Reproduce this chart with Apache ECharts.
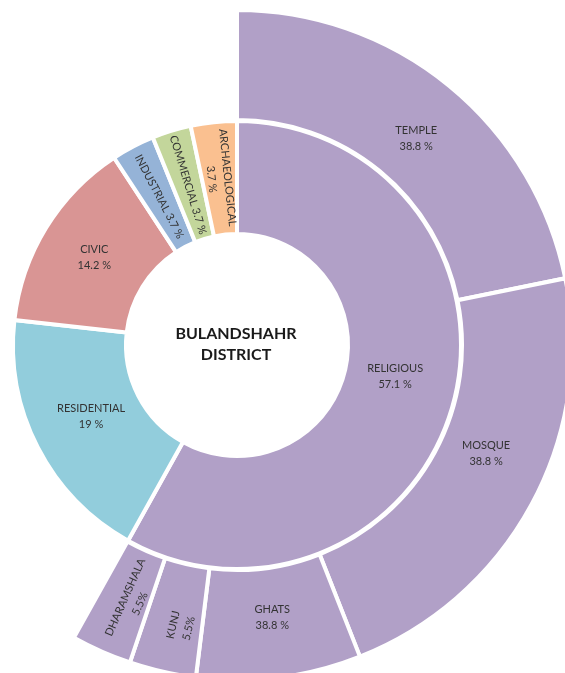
<!DOCTYPE html>
<html>
<head>
<meta charset="utf-8">
<script src="https://cdn.jsdelivr.net/npm/echarts@6/dist/echarts.min.js"></script>
<style>
html,body{margin:0;padding:0;background:#fff;}
#chart{width:565px;height:673px;}
</style>
</head>
<body>
<div id="chart"></div>
<script>
// Inner ring (land use categories)
const innerNames = ['RELIGIOUS', 'RESIDENTIAL', 'CIVIC', 'INDUSTRIAL', 'COMMERCIAL', 'ARCHAEOLOGICAL'];
const innerValues = [57.8, 18.6, 13.9, 3.1, 2.8, 3.3];
const innerLabels = ['57.1 %', '19 %', '14.2 %', '3.7 %', '3.7 %', '3.7 %'];

// Outer ring (breakdown of religious)
const religiousNames = ['TEMPLE', 'MOSQUE', 'GHATS', 'KUNJ', 'DHARAMSHALA'];
const religiousValues = [21.7, 22.1, 7.9, 3.2, 2.9];
const religiousLabels = ['38.8 %', '38.8 %', '38.8 %', '5.5%', '5.5%'];

const centerTitle = 'BULANDSHAHR\nDISTRICT';

// ---- styling (kept apart from the data) ----
const innerColors = ['#b1a0c7', '#92cddc', '#d99594', '#95b3d7', '#c3d69b', '#fac090'];
const radialLabels = ['INDUSTRIAL', 'COMMERCIAL', 'ARCHAEOLOGICAL', 'KUNJ', 'DHARAMSHALA'];
const singleLine = ['INDUSTRIAL', 'COMMERCIAL'];
// small label nudges in px, in the label's own frame: [dx, dy]
const labelNudge = {
  TEMPLE: [2, 10],
  MOSQUE: [3, -25],
  RELIGIOUS: [-4, -11],
  GHATS: [0, -5],
  RESIDENTIAL: [3, -5],
  KUNJ: [-7, 8],
  DHARAMSHALA: [4, 8]
};

const rich = {};
function labelFor(name, pct) {
  let text = name + (singleLine.includes(name) ? ' ' : '\n') + pct;
  const l = { rotate: radialLabels.includes(name) ? 'radial' : 0 };
  const nd = labelNudge[name];
  if (nd) {
    const dx = nd[0], dy = nd[1];
    l.padding = [0, dx < 0 ? -2 * dx : 0, 0, dx > 0 ? 2 * dx : 0];
    if (dy !== 0) {
      const h = Math.abs(dy) * 2;
      const key = 'g' + h;
      rich[key] = { lineHeight: h, fontSize: 1, height: h };
      text = dy > 0 ? '{' + key + '| }\n' + text : text + '\n{' + key + '| }';
    }
  }
  l.formatter = text;
  return l;
}

const children = religiousNames.map((n, i) => ({
  name: n,
  value: religiousValues[i],
  itemStyle: { color: innerColors[0] },
  label: labelFor(n, religiousLabels[i])
}));

const data = innerNames.map((n, i) => {
  const node = {
    name: n,
    value: innerValues[i],
    itemStyle: { color: innerColors[i] },
    label: labelFor(n, innerLabels[i])
  };
  if (i === 0) node.children = children;
  return node;
});

const chart = echarts.init(document.getElementById('chart'), null, { renderer: 'canvas' });
chart.setOption({
  backgroundColor: '#ffffff',
  animation: false,
  series: [{
    type: 'sunburst',
    center: [237, 345],
    sort: null,
    startAngle: 90,
    clockwise: true,
    data: data,
    itemStyle: { borderColor: '#ffffff', borderWidth: 4 },
    label: {
      fontFamily: 'Lato',
      fontSize: 11,
      color: '#333333',
      lineHeight: 16,
      rotate: 0,
      align: 'center',
      verticalAlign: 'middle',
      rich: rich
    },
    emphasis: { disabled: true },
    levels: [
      {},
      { r0: 111, r: 224 },
      { r0: 225, r: 335 }
    ]
  }],
  graphic: [{
    type: 'text',
    x: 236,
    y: 344,
    style: {
      text: centerTitle,
      font: 'bold 16px Lato',
      fill: '#1a1a1a',
      align: 'center',
      verticalAlign: 'middle',
      lineHeight: 21
    }
  }]
});
</script>
</body>
</html>
